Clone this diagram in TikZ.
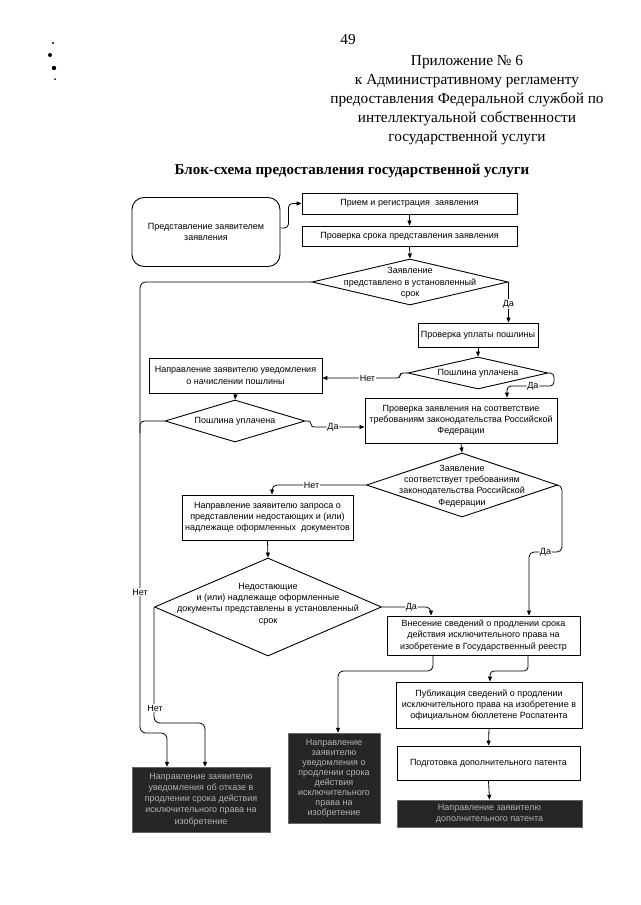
\documentclass[tikz,border=0pt]{standalone}
\usepackage{fontspec}
\setmainfont{Liberation Serif}
\newfontfamily\diag{Liberation Sans}
\usetikzlibrary{arrows.meta,shapes.geometric,calc}
\begin{document}
\begin{tikzpicture}[x=1pt,y=-1pt,
  dfont/.style={font=\diag\fontsize{9}{11.3}\selectfont},
  box/.style={draw, line width=0.9pt, dfont, align=center, inner sep=0pt},
  rbox/.style={box, rounded corners=12pt},
  darkbox/.style={fill=black!85, draw=black!60, dfont, align=center, inner sep=0pt, text=black!30},
  dia/.style={draw, line width=0.9pt, shape=diamond, inner sep=0pt},
  dtext/.style={dfont, align=center},
  conn/.style={line width=0.8pt},
  arr/.style={conn, -{Triangle[length=5pt,width=4pt]}},
  lab/.style={dfont, fill=white, inner sep=0.8pt},
  hfont/.style={font=\fontsize{15.3}{19}\selectfont}
]
\path[use as bounding box] (0,0) rectangle (640,905);

% scan marks
\fill (53,43) circle (1.2);
\fill (50,55) circle (2);
\fill (54,68) circle (2.2);
\fill (55,79) circle (1);

% header
\node[hfont] (pg) at (348,40) {49};
\node[hfont, align=center] (hdr) at (467,100) {Приложение № 6\\к Административному регламенту\\предоставления Федеральной службой по\\интеллектуальной собственности\\государственной услуги};
\node[font=\bfseries\fontsize{15}{18}\selectfont] (ttl) at (352,171) {Блок-схема предоставления государственной услуги};

% nodes
\node[rbox, minimum width=148, minimum height=69] (start) at (206,232) {Представление заявителем\\заявления};
\node[box, minimum width=215, minimum height=21] (priem) at (409.5,203.5) {Прием и регистрация\ \ заявления};
\node[box, minimum width=215, minimum height=20] (srok) at (409.5,236) {Проверка срока представления заявления};
\node[dia, minimum width=196, minimum height=46] (d1) at (410,282) {};
\node[dtext] (d1t) at (410,283) {Заявление\\представлено в установленный\\срок};
\node[box, minimum width=120, minimum height=24] (pu) at (478,335) {Проверка уплаты пошлины};
\node[dia, minimum width=140, minimum height=32] (d2) at (478,373) {};
\node[dtext] (d2t) at (478,373) {Пошлина уплачена};
\node[box, minimum width=173, minimum height=35] (nach) at (235.5,375.5) {Направление заявителю уведомления\\о начислении пошлины};
\node[dia, minimum width=140, minimum height=42] (d3) at (235,421) {};
\node[dtext] (d3t) at (235,421) {Пошлина уплачена};
\node[box, minimum width=192, minimum height=45] (pz) at (461,420.5) {Проверка заявления на соответствие\\требованиям законодательства Российской\\Федерации};
\node[dia, minimum width=191, minimum height=64] (d5) at (462,485) {};
\node[dtext] (d5t) at (462,486) {Заявление\\соответствует требованиям\\законодательства Российской\\Федерации};
\node[box, minimum width=171, minimum height=45] (zap) at (267.5,517.5) {Направление заявителю запроса о\\представлении недостающих и (или)\\надлежаще оформленных\ \ документов};
\node[dia, minimum width=227, minimum height=98] (d4) at (268,607) {};
\node[dtext] (d4t) at (268,604) {Недостающие\\и (или) надлежаще оформленные\\документы представлены в установленный\\срок};
\node[box, minimum width=193, minimum height=39] (vnes) at (483.5,635.5) {Внесение сведений о продлении срока\\действия исключительного права на\\изобретение в Государственный реестр};
\node[box, minimum width=186, minimum height=46] (publ) at (489,705) {Публикация сведений о продлении\\исключительного права на изобретение в\\официальном бюллетене Роспатента};
\node[box, minimum width=183, minimum height=34] (podg) at (488.5,763) {Подготовка дополнительного патента};
\node[darkbox, minimum width=185, minimum height=27] (rdark) at (489.5,813.5) {Направление заявителю\\дополнительного патента};
\node[darkbox, minimum width=92, minimum height=90, font=\diag\fontsize{9}{10}\selectfont] (mdark) at (334,778) {Направление\\заявителю\\уведомления о\\продлении срока\\действия\\исключительного\\права на\\изобретение};
\node[darkbox, minimum width=138, minimum height=65] (ldark) at (201,799.5) {Направление заявителю\\уведомления об отказе в\\продлении срока действия\\исключительного права на\\изобретение};

% helper coordinates
\coordinate (lx) at (140,0);
\coordinate (c1) at (167,733);
\coordinate (c2) at (205,723);
\coordinate (c3) at (400,378);
\coordinate (c4) at (554,386);
\coordinate (c5) at (507,386);
\coordinate (c6) at (311,427);
\coordinate (c7) at (272,0);
\coordinate (c8) at (562,552);
\coordinate (c9) at (529,552);
\coordinate (c10) at (431,0);
\coordinate (c11) at (433,671);
\coordinate (c12) at (338,671);
\coordinate (c13) at (528,671);
\coordinate (c14) at (490,671);

% connectors
\draw[arr, rounded corners=4] ($(start.east)+(0,-4)$) -- ++(8,0) |- (priem.west);
\draw[arr] (priem.south) -- (srok.north);
\draw[arr] (srok.south) -- (d1.north);
\draw[arr] (d1.east) -- node[lab, pos=0.54] {Да} (d1.east |- pu.north);
\draw[arr] (pu.south) -- (d2.north);
\draw[arr, rounded corners=3] (d2.west) -| (c3) -- node[lab, pos=0.42] {Нет} (c3 -| nach.east);
\draw[arr, rounded corners=4] (d2.east) -| (c4) -- node[lab, pos=0.45] {Да} (c5) -- (c5 |- pz.north);
\draw[arr] (nach.south) -- (d3.north);
\draw[arr, rounded corners=3] (d3.east) -| (c6) -- node[lab, pos=0.41] {Да} (c6 -| pz.west);
\draw[arr] (pz.south) -- (d5.north);
\draw[arr, rounded corners=5] (d5.west) -- node[lab, pos=0.58] {Нет} (d5.west -| c7) -- (c7 |- zap.north);
\draw[arr, rounded corners=5] (d5.east) -| (c8) -- node[lab, pos=0.5] {Да} (c9) -- (c9 |- vnes.north);
\draw[arr] (zap.south) -- (d4.north);
\draw[arr, rounded corners=5] (d4.east) -- node[lab, pos=0.6] {Да} (d4.east -| c10) -- (c10 |- vnes.north);
\draw[arr, rounded corners=6] (d1.west) -| (c1 -| lx) -- (c1) -- (c1 |- ldark.north);
\draw[conn, rounded corners=4] (d3.west) -- (d3.west -| lx) -- ++(0,12);
\node[lab] (nlab1) at (140,592) {Нет};
\draw[arr, rounded corners=6] (d4.west) -- (c2 -| d4.west) -- (c2) -- (c2 |- ldark.north);
\node[lab] (nlab2) at (155,708) {Нет};
\draw[arr, rounded corners=5] (c11 |- vnes.south) -- (c11) -- (c12) -- (c12 |- mdark.north);
\draw[arr, rounded corners=4] (c13 |- vnes.south) -- (c13) -- (c14) -- (c14 |- publ.north);
\draw[arr] (publ.south) -- (podg.north);
\draw[arr] (podg.south) -- (rdark.north);
\end{tikzpicture}
\end{document}
